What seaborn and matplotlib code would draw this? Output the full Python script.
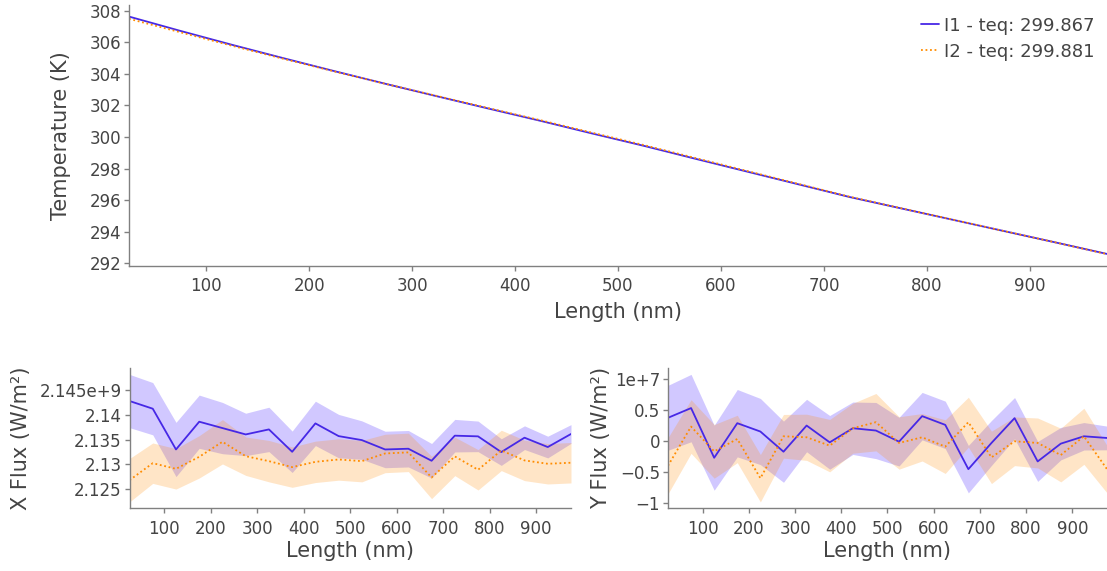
import numpy as np
import pandas as pd
import matplotlib
matplotlib.use("Agg")
import matplotlib.pyplot as plt
import seaborn as sns
from matplotlib.ticker import FuncFormatter, MultipleLocator

# ---------------- data ----------------
length_nm = [25, 75, 125, 175, 225, 275, 325, 375, 425, 475,
             525, 575, 625, 675, 725, 775, 825, 875, 925, 975]

run_labels = ["I1 - teq: 299.867", "I2 - teq: 299.881"]

temp_i1 = [307.64, 306.73, 305.85, 305.00, 304.17, 303.36, 302.57, 301.79, 301.02, 300.22,
           299.44, 298.62, 297.81, 297.00, 296.19, 295.47, 294.75, 294.03, 293.31, 292.58]
temp_i2 = [307.50, 306.64, 305.79, 304.96, 304.15, 303.36, 302.59, 301.82, 301.06, 300.27,
           299.49, 298.67, 297.85, 297.03, 296.21, 295.48, 294.76, 294.03, 293.31, 292.57]

# X flux, in units of 1e9 W/m^2 (mean and half-width of band)
xflux_i1 = [2.14283, 2.14127, 2.13300, 2.13863, 2.13734, 2.13605, 2.13707, 2.13253, 2.13829, 2.13571,
            2.13490, 2.13300, 2.13315, 2.13071, 2.13580, 2.13566, 2.13247, 2.13539, 2.13349, 2.13614]
xflux_i1_err = [0.0054, 0.0053, 0.0055, 0.0054, 0.0052, 0.0043, 0.0045, 0.0042, 0.0045, 0.0044,
                0.0039, 0.0037, 0.0037, 0.0035, 0.0033, 0.0031, 0.0027, 0.0024, 0.0022, 0.0019]
xflux_i2 = [2.12676, 2.13022, 2.12907, 2.13151, 2.13456, 2.13164, 2.13063, 2.12942, 2.13049, 2.13097,
            2.13063, 2.13219, 2.13241, 2.12732, 2.13159, 2.12888, 2.13281, 2.13078, 2.13010, 2.13031]
xflux_i2_err = [0.0044, 0.0041, 0.0041, 0.0043, 0.0045, 0.0039, 0.0042, 0.0041, 0.0042, 0.0042,
                0.0042, 0.0039, 0.0039, 0.0043, 0.0039, 0.0041, 0.0041, 0.0041, 0.0041, 0.0041]

# Y flux, in units of 1e7 W/m^2
yflux_i1 = [0.371, 0.527, -0.269, 0.285, 0.151, -0.172, 0.247, -0.022, 0.204, 0.167,
            -0.011, 0.398, 0.258, -0.452, -0.032, 0.366, -0.328, -0.043, 0.075, 0.048]
yflux_i1_err = [0.52, 0.54, 0.52, 0.54, 0.53, 0.49, 0.42, 0.43, 0.42, 0.45,
                0.39, 0.38, 0.38, 0.38, 0.36, 0.33, 0.32, 0.26, 0.22, 0.19]
yflux_i2 = [-0.398, 0.231, -0.167, 0.032, -0.597, 0.075, 0.059, -0.075, 0.204, 0.301,
            -0.032, 0.059, -0.091, 0.301, -0.263, -0.005, -0.032, -0.226, 0.075, -0.452]
yflux_i2_err = [0.45, 0.43, 0.43, 0.38, 0.38, 0.35, 0.37, 0.42, 0.40, 0.46,
                0.42, 0.38, 0.43, 0.40, 0.42, 0.39, 0.40, 0.43, 0.45, 0.38]

X_SCALE = 1e9
Y_SCALE = 1e7

# ---------------- style ----------------
sns.set_theme(style="ticks")
plt.rcParams['font.family'] = ['DejaVu Sans']
plt.rcParams['lines.linewidth'] = 1.3

C1 = '#4628e6'
C2 = '#ff8c00'
F1 = '#5a3cff'
SPINE = '#808080'
TXT = '#444444'
palette = {run_labels[0]: C1, run_labels[1]: C2}
dashes = {run_labels[0]: "", run_labels[1]: (1, 1.5)}

fig = plt.figure(figsize=(11.07, 5.71), dpi=100)
ax_t = fig.add_axes([0.1165, 0.5342, 0.8835, 0.4576])
ax_x = fig.add_axes([0.117, 0.1098, 0.3988, 0.2457])
ax_y = fig.add_axes([0.6034, 0.1098, 0.3966, 0.2457])

# ---- top: temperature ----
df_t = pd.DataFrame({
    'Length': length_nm * 2,
    'Temperature': temp_i1 + temp_i2,
    'run': [run_labels[0]] * len(length_nm) + [run_labels[1]] * len(length_nm),
})
sns.lineplot(data=df_t, x='Length', y='Temperature', hue='run', style='run',
             palette=palette, dashes=dashes, linewidth=1.3, errorbar=None, ax=ax_t)
ax_t.set_ylabel('Temperature (K)')
ax_t.set_xlabel('Length (nm)')
ax_t.yaxis.set_major_locator(MultipleLocator(2))

sns.move_legend(ax_t, 'upper right', bbox_to_anchor=(0.989, 0.971),
                bbox_transform=fig.transFigure, frameon=False, title=None,
                fontsize=13, handlelength=1.0, handletextpad=0.3,
                labelspacing=0.45, borderpad=0, borderaxespad=0)
for t in ax_t.get_legend().get_texts():
    t.set_color(TXT)


def band_plot(ax, means, errs, scale):
    fills = [(F1, 0.28), (C2, 0.22)]
    for i, lab in enumerate(run_labels):
        m = np.array(means[i]) * scale
        e = np.array(errs[i]) * scale
        ax.fill_between(length_nm, m - e, m + e, color=fills[i][0],
                        alpha=fills[i][1], linewidth=0)
        d = pd.DataFrame({'Length': length_nm, 'val': m, 'run': lab})
        sns.lineplot(data=d, x='Length', y='val', hue='run', style='run',
                     palette=palette, dashes=dashes, linewidth=1.3,
                     errorbar=None, legend=False, ax=ax)


band_plot(ax_x, [xflux_i1, xflux_i2], [xflux_i1_err, xflux_i2_err], X_SCALE)
band_plot(ax_y, [yflux_i1, yflux_i2], [yflux_i1_err, yflux_i2_err], Y_SCALE)

ax_x.set_ylabel('X Flux (W/m²)')
ax_y.set_ylabel('Y Flux (W/m²)')
ax_x.set_xlabel('Length (nm)')
ax_y.set_xlabel('Length (nm)')


def exp_formatter(ax, scale, step, exp_txt):
    def f(v, pos):
        lo, hi = ax.get_ylim()
        top = np.floor(hi / (step * scale) + 1e-9) * step * scale
        s = '%g' % round(v / scale, 6)
        if s == '-0':
            s = '0'
        s = s.replace('-', '\u2212')
        if abs(v - top) < 1e-6 * scale:
            s = s + exp_txt
        return s
    return FuncFormatter(f)


ax_x.yaxis.set_major_locator(MultipleLocator(0.005 * X_SCALE))
ax_y.yaxis.set_major_locator(MultipleLocator(0.5 * Y_SCALE))

for ax in (ax_t, ax_x, ax_y):
    ax.set_xlim(25, 975)
    ax.xaxis.set_major_locator(MultipleLocator(100))
    sns.despine(ax=ax)
    for sp in ('left', 'bottom'):
        ax.spines[sp].set_color(SPINE)
        ax.spines[sp].set_linewidth(1.0)
    ax.tick_params(direction='out', length=3.6, width=1.0, color=SPINE,
                   labelcolor=TXT, labelsize=12)
    ax.tick_params(axis='x', pad=4.5)
    ax.tick_params(axis='y', pad=2)
    ax.xaxis.label.set_size(15)
    ax.yaxis.label.set_size(15)
    ax.xaxis.label.set_color(TXT)
    ax.yaxis.label.set_color(TXT)
    ax.grid(False)

ax_x.yaxis.set_major_formatter(exp_formatter(ax_x, X_SCALE, 0.005, 'e+9'))
ax_y.yaxis.set_major_formatter(exp_formatter(ax_y, Y_SCALE, 0.5, 'e+7'))

ax_t.yaxis.set_label_coords(-0.0596, 0.5)
ax_t.xaxis.set_label_coords(0.5, -0.137)
ax_x.yaxis.set_label_coords(-0.223, 0.5)
ax_x.xaxis.set_label_coords(0.5, -0.233)
ax_y.yaxis.set_label_coords(-0.13, 0.5)
ax_y.xaxis.set_label_coords(0.5, -0.233)

fig.savefig('out.png', dpi=100)
